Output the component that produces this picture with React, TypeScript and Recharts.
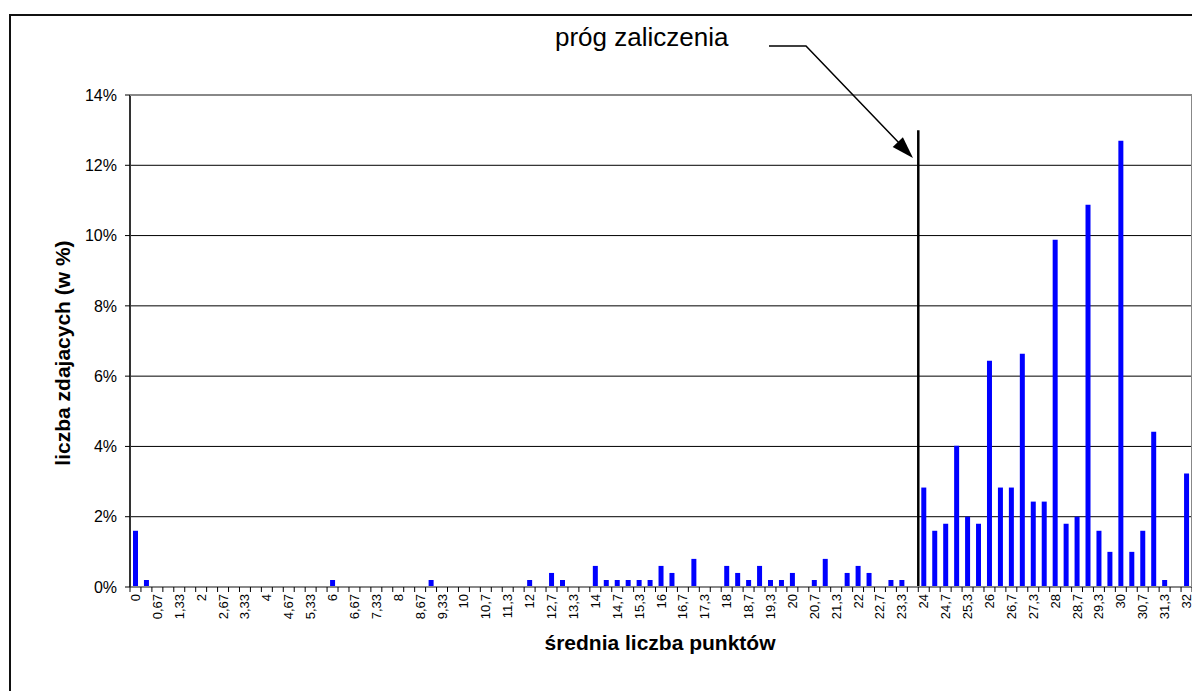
import React from 'react';
import { BarChart, Bar, XAxis, YAxis, CartesianGrid, ReferenceLine } from 'recharts';

const categories: string[] = [
  '0', '0,33', '0,67', '1', '1,33', '1,67', '2', '2,33', '2,67', '3', '3,33', '3,67',
  '4', '4,33', '4,67', '5', '5,33', '5,67', '6', '6,33', '6,67', '7', '7,33', '7,67',
  '8', '8,33', '8,67', '9', '9,33', '9,67', '10', '10,3', '10,7', '11', '11,3', '11,7',
  '12', '12,3', '12,7', '13', '13,3', '13,7', '14', '14,3', '14,7', '15', '15,3', '15,7',
  '16', '16,3', '16,7', '17', '17,3', '17,7', '18', '18,3', '18,7', '19', '19,3', '19,7',
  '20', '20,3', '20,7', '21', '21,3', '21,7', '22', '22,3', '22,7', '23', '23,3', '23,7',
  '24', '24,3', '24,7', '25', '25,3', '25,7', '26', '26,3', '26,7', '27', '27,3', '27,7',
  '28', '28,3', '28,7', '29', '29,3', '29,7', '30', '30,3', '30,7', '31', '31,3', '31,7',
  '32',
];

const percentValues: number[] = [
  1.6, 0.2, 0, 0, 0, 0, 0, 0, 0, 0, 0, 0,
  0, 0, 0, 0, 0, 0, 0.2, 0, 0, 0, 0, 0,
  0, 0, 0, 0.2, 0, 0, 0, 0, 0, 0, 0, 0,
  0.2, 0, 0.4, 0.2, 0, 0, 0.6, 0.2, 0.2, 0.2, 0.2, 0.2,
  0.6, 0.4, 0, 0.8, 0, 0, 0.6, 0.4, 0.2, 0.6, 0.2, 0.2,
  0.4, 0, 0.2, 0.8, 0, 0.4, 0.6, 0.4, 0, 0.2, 0.2, 0,
  2.83, 1.6, 1.8, 4.02, 2.0, 1.8, 6.44, 2.83, 2.83, 6.64, 2.43, 2.43,
  9.88, 1.8, 2.0, 10.88, 1.6, 1.0, 12.7, 1.0, 1.6, 4.42, 0.2, 0,
  3.23,
];

const yTicks: number[] = [0, 2, 4, 6, 8, 10, 12, 14];

const thresholdCategory = '24';
const thresholdTop = 13;

const data = categories.map((cat, i) => ({ cat, value: percentValues[i] }));

const FONT = '"Liberation Sans", Arial, Helvetica, sans-serif';

const CHART_W = 1192;
const CHART_H = 683;
const MARGIN = { top: 86, right: 7, bottom: 44, left: 62 };
const Y_AXIS_W = 60;
const RIGHT_AXIS_W = 1;
const TOP_AXIS_H = 1;
const X_AXIS_H = 60;
const PLOT_LEFT = MARGIN.left + Y_AXIS_W;
const PLOT_TOP = MARGIN.top + TOP_AXIS_H;
const PLOT_RIGHT = CHART_W - MARGIN.right - RIGHT_AXIS_W;
const PLOT_BOTTOM = CHART_H - MARGIN.bottom - X_AXIS_H;
const PLOT_W = PLOT_RIGHT - PLOT_LEFT;
const BAND = PLOT_W / categories.length;

const XTick = (props: any) => {
  const { x, y, payload } = props;
  const idx: number = payload && typeof payload.index === 'number' ? payload.index : props.index;
  const isLast = idx === categories.length - 1;
  return (
    <g>
      <line x1={x - BAND / 2} x2={x - BAND / 2} y1={y} y2={y + 5} stroke="#000" strokeWidth={1} />
      {isLast && <line x1={x + BAND / 2} x2={x + BAND / 2} y1={y} y2={y + 5} stroke="#000" strokeWidth={1} />}
      {idx % 2 === 0 && (
        <text
          x={x}
          y={y + 7}
          transform={`rotate(-90 ${x} ${y + 7})`}
          textAnchor="end"
          dominantBaseline="central"
          fontSize={13}
          fontFamily={FONT}
          fill="#000"
        >
          {payload.value}
        </text>
      )}
    </g>
  );
};

export default function App() {
  return (
    <div style={{ position: 'relative', width: CHART_W, height: CHART_H, overflow: 'hidden', background: '#fff' }}>
      <div
        style={{
          position: 'absolute',
          left: 1,
          top: 6,
          width: 1400,
          height: 900,
          border: '2px solid #111',
          boxSizing: 'border-box',
        }}
      />
      <div style={{ position: 'absolute', left: 0, top: 0 }}>
        <BarChart width={CHART_W} height={CHART_H} data={data} margin={MARGIN} barSize={5}>
          <CartesianGrid horizontal vertical={false} stroke="#000" strokeWidth={1} />
          <XAxis
            dataKey="cat"
            interval={0}
            tickLine={false}
            tickSize={0}
            tickMargin={0}
            height={X_AXIS_H}
            axisLine={{ stroke: '#888', strokeWidth: 2 }}
            tick={<XTick />}
          />
          <XAxis
            xAxisId="top"
            orientation="top"
            dataKey="cat"
            height={TOP_AXIS_H}
            tick={false}
            tickLine={false}
            axisLine={{ stroke: '#888', strokeWidth: 2 }}
          />
          <YAxis
            width={Y_AXIS_W}
            domain={[0, 14]}
            ticks={yTicks}
            allowDataOverflow
            tickFormatter={(v: number) => `${v}%`}
            tickSize={5}
            tickMargin={8}
            tickLine={{ stroke: '#000' }}
            axisLine={{ stroke: '#333', strokeWidth: 2 }}
            tick={{ fontSize: 16, fill: '#000', fontFamily: FONT }}
          />
          <YAxis
            yAxisId="right"
            orientation="right"
            width={RIGHT_AXIS_W}
            domain={[0, 14]}
            tick={false}
            tickLine={false}
            axisLine={{ stroke: '#888', strokeWidth: 2 }}
          />
          <Bar dataKey="value" fill="#0000FF" isAnimationActive={false} />
          <ReferenceLine
            segment={[
              { x: thresholdCategory, y: 0 },
              { x: thresholdCategory, y: thresholdTop },
            ]}
            position="start"
            stroke="#000"
            strokeWidth={2.5}
          />
        </BarChart>
      </div>
      <svg
        width={CHART_W}
        height={CHART_H}
        style={{ position: 'absolute', left: 0, top: 0, pointerEvents: 'none' }}
      >
        <line x1={PLOT_LEFT} x2={PLOT_RIGHT + 1} y1={PLOT_TOP} y2={PLOT_TOP} stroke="#888" strokeWidth={2} />
        <line x1={PLOT_RIGHT} x2={PLOT_RIGHT} y1={PLOT_TOP} y2={PLOT_BOTTOM} stroke="#888" strokeWidth={2} />
        <text x={547} y={38} fontSize={26} fontFamily={FONT} fill="#000">
          próg zaliczenia
        </text>
        <polyline points="761,38 798,38 897.8,142.1" fill="none" stroke="#000" strokeWidth={1.5} />
        <polygon points="905,150 884.7,138.9 894.9,129.3" fill="#000" />
        <text
          x={54}
          y={345}
          transform="rotate(-90 54 345)"
          textAnchor="middle"
          dominantBaseline="central"
          fontSize={21}
          fontWeight="bold"
          fontFamily={FONT}
          fill="#000"
        >
          liczba zdajacych (w %)
        </text>
        <text
          x={652}
          y={642}
          textAnchor="middle"
          fontSize={21}
          fontWeight="bold"
          fontFamily={FONT}
          fill="#000"
        >
          średnia liczba punktów
        </text>
      </svg>
    </div>
  );
}
